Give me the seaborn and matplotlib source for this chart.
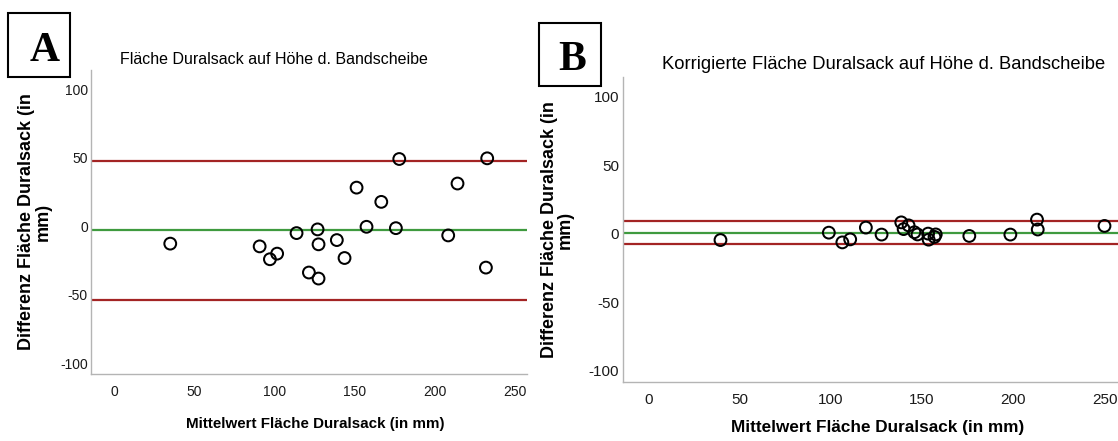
import matplotlib
matplotlib.use("Agg")
import matplotlib.pyplot as plt
from matplotlib.patches import Rectangle
import pandas as pd
import seaborn as sns

# Bland-Altman data: mean of both measurements vs. their difference
mean_a = [35.1, 90.8, 97.2, 101.7, 113.8, 121.5, 126.9, 127.5, 127.5, 138.9,
          143.7, 151.2, 157.4, 166.6, 175.7, 177.8, 208.3, 214.1, 231.8, 232.6]
diff_a = [-12.8, -14.8, -24.2, -20.1, -5.1, -33.9, -2.4, -13.3, -38.3, -10.2,
          -23.3, 28.1, -0.5, 17.7, -1.5, 49.0, -6.8, 31.1, -30.3, 49.5]
bias_a = -2.9
limits_a = [47.3, -53.8]

mean_b = [39.5, 98.9, 106.3, 110.6, 119.2, 127.8, 138.6, 139.9, 142.6, 145.8,
          147.5, 153.3, 153.6, 157.5, 156.8, 175.9, 198.4, 213.0, 213.4, 250.0]
diff_b = [-4.7, 0.7, -6.4, -4.2, 4.4, -0.7, 8.2, 3.3, 6.0, 1.0,
          -0.6, 0.0, -4.4, -0.6, -2.4, -1.7, -0.7, 10.2, 3.0, 5.6]
bias_b = 0.7
limits_b = [9.2, -7.5]

titles = ["Fläche Duralsack auf Höhe d. Bandscheibe",
          "Korrigierte Fläche Duralsack auf Höhe d. Bandscheibe"]
x_label = "Mittelwert Fläche Duralsack (in mm)"
y_label = "Differenz Fläche Duralsack (in\nmm)"
panel_letters = ["A", "B"]
x_ticks = [0, 50, 100, 150, 200, 250]
y_ticks = [-100, -50, 0, 50, 100]

sns.set_style("white")
plt.rcParams["font.family"] = ["Liberation Sans", "DejaVu Sans"]
plt.rcParams["axes.unicode_minus"] = False

W, H = 1118, 441
fig = plt.figure(figsize=(W / 100, H / 100), dpi=100)

def px_axes(x0, y0, x1, y1):
    return fig.add_axes([x0 / W, 1 - y1 / H, (x1 - x0) / W, (y1 - y0) / H])

ax_a = px_axes(91.3, 70, 527, 374)
ax_b = px_axes(622.7, 77.3, 1118, 381.7)

RED = "#a32424"
GREEN = "#3f9a3f"

# per panel: axes, data, bias, limits, tick size, title size, xlabel size,
# title position, xlabel position, ylabel x position
panels = [
    (ax_a, mean_a, diff_a, bias_a, limits_a, 10.0, 11.5, 10.9,
     (0.42, 1.036), (0.513, -0.164), -0.129),
    (ax_b, mean_b, diff_b, bias_b, limits_b, 11.0, 13.2, 12.3,
     (0.526, 1.043), (0.514, -0.152), -0.132),
]

for i, (ax, mx, dy, bias, lims, tk, ts, xs, tpos, xlpos, ylx) in enumerate(panels):
    df = pd.DataFrame({"mean": mx, "diff": dy})
    for lim in lims:
        ax.axhline(lim, color=RED, lw=1.6, zorder=1)
    ax.axhline(bias, color=GREEN, lw=1.6, zorder=1)
    sns.scatterplot(data=df, x="mean", y="diff", ax=ax, marker="o", s=72,
                    facecolor="none", edgecolor="black", linewidth=1.45, zorder=3)
    ax.set_xlim(-14.1, 257.4)
    ax.set_ylim(-108, 114)
    ax.set_xticks(x_ticks)
    ax.set_yticks(y_ticks)
    ax.tick_params(axis="both", length=0, labelsize=tk, colors="#1a1a1a")
    ax.tick_params(axis="x", pad=8)
    ax.tick_params(axis="y", pad=2.5)
    for side in ["top", "right"]:
        ax.spines[side].set_visible(False)
    for side in ["left", "bottom"]:
        ax.spines[side].set_color("#b4b4b4")
        ax.spines[side].set_linewidth(1.0)
    ax.set_xlabel(x_label, fontsize=xs, fontweight="bold", color="black")
    ax.xaxis.label.set_va("center")
    ax.xaxis.set_label_coords(*xlpos)
    ax.set_ylabel(y_label, fontsize=13, fontweight="bold", linespacing=0.95,
                  color="black")
    ax.yaxis.label.set_va("center")
    ax.yaxis.label.set_ha("center")
    ax.yaxis.set_label_coords(ylx, 0.5)
    ax.text(tpos[0], tpos[1], titles[i], transform=ax.transAxes, ha="center",
            va="center", fontsize=ts, color="black")

# Panel letters in framed boxes
boxes = [((8.3, 13.3, 70, 77.3), (45, 51)), ((539.3, 23, 600.7, 86), (572, 60))]
for letter, ((x0, y0, x1, y1), (cx, cy)) in zip(panel_letters, boxes):
    fig.add_artist(Rectangle((x0 / W, 1 - y1 / H), (x1 - x0) / W, (y1 - y0) / H,
                             transform=fig.transFigure, fill=False,
                             edgecolor="black", linewidth=1.5))
    fig.text(cx / W, 1 - cy / H, letter, ha="center", va="center",
             family="Liberation Serif", fontweight="bold", fontsize=30,
             color="black")

fig.savefig("out.png", dpi=100)
